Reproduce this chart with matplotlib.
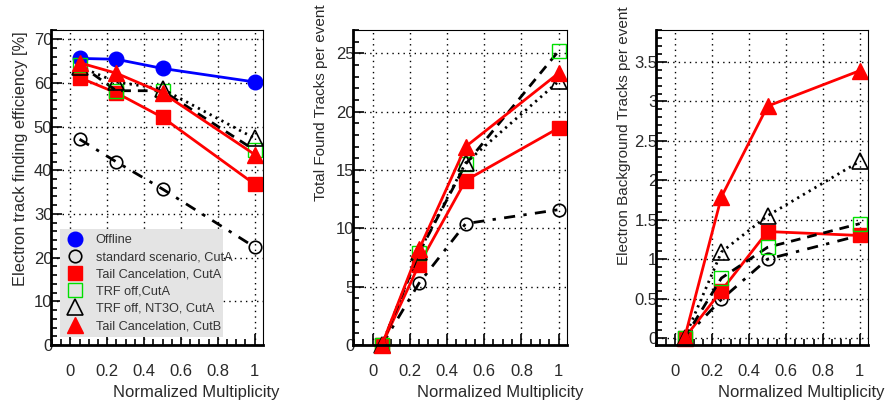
import matplotlib
matplotlib.use("Agg")
import matplotlib.pyplot as plt
from matplotlib.ticker import MultipleLocator
from matplotlib.lines import Line2D

plt.rcParams["font.family"] = ["Liberation Sans", "DejaVu Sans"]

mult = [0.05, 0.25, 0.5, 1.0]

labels = ["Offline", "standard scenario, CutA", "Tail Cancelation, CutA",
          "TRF off,CutA", "TRF off, NT3O, CutA", "Tail Cancelation, CutB"]

# efficiency [%]
eff_offline = [65.6, 65.4, 63.3, 60.2]
eff_standard = [47.1, 41.9, 35.7, 22.4]
eff_tail_a = [61.2, 57.7, 52.1, 36.8]
eff_trf_off = [64.2, 58.2, 58.2, 44.6]
eff_nt3o = [63.7, 60.2, 58.6, 47.3]
eff_tail_b = [64.6, 62.2, 57.7, 43.6]

# total found tracks per event
found_standard = [0.0, 5.3, 10.4, 11.6]
found_tail_a = [0.0, 6.9, 14.1, 18.6]
found_trf_off = [0.0, 7.9, 15.5, 25.2]
found_nt3o = [0.0, 8.0, 15.6, 22.6]
found_tail_b = [0.0, 8.2, 17.0, 23.3]

# electron background tracks per event
bkg_standard = [0.0, 0.49, 1.0, 1.3]
bkg_tail_a = [0.0, 0.6, 1.35, 1.3]
bkg_trf_off = [0.0, 0.76, 1.15, 1.45]
bkg_nt3o = [0.0, 1.09, 1.55, 2.24]
bkg_tail_b = [0.0, 1.79, 2.94, 3.39]

RED = "#ff0000"
BLUE = "#0000ff"
GREEN = "#00e000"
TXT = "#2a2a2a"

styles = {
    "offline": dict(color=BLUE, ls="-", lw=2, marker="o", ms=10.5,
                    mfc=BLUE, mec=BLUE),
    "standard": dict(color="k", ls=(0, (4, 3, 1.2, 3)), lw=2, marker="o", ms=9,
                     mfc="none", mec="k", mew=1.2),
    "tail_a": dict(color=RED, ls="-", lw=2, marker="s", ms=10,
                   mfc=RED, mec=RED),
    "trf_off": dict(color="k", ls=(0, (3.5, 2.5)), lw=2, marker="s", ms=10,
                    mfc="none", mec=GREEN, mew=1.0),
    "nt3o": dict(color="k", ls=(0, (0.8, 1.6)), lw=2, marker="^", ms=11,
                 mfc="none", mec="k", mew=1.2),
    "tail_b": dict(color=RED, ls="-", lw=2, marker="^", ms=11,
                   mfc=RED, mec=RED),
}

fig = plt.figure(figsize=(8.87, 4.05), dpi=100)
W, H = 887.0, 405.0
boxes = [(51, 212), (353, 214), (656, 212)]
axes = [fig.add_axes([l / W, (H - 345) / H, w / W, 315 / H]) for l, w in boxes]


def style_axis(ax, ylim, ymajor, yminor):
    ax.set_xlim(-0.105, 1.045)
    ax.set_ylim(*ylim)
    ax.xaxis.set_minor_locator(MultipleLocator(0.05))
    ax.yaxis.set_major_locator(MultipleLocator(ymajor))
    ax.yaxis.set_minor_locator(MultipleLocator(yminor))
    ax.set_xticks([0, 0.2, 0.4, 0.6, 0.8, 1.0])
    ax.set_xticklabels(["0", "0.2", "0.4", "0.6", "0.8", "1"])
    ax.yaxis.set_major_formatter(lambda v, pos: f"{v:g}")
    ax.grid(True, which="major", color="k", ls=(0, (1, 3)), lw=1.0)
    ax.tick_params(axis="both", which="both", direction="in", colors="k",
                   labelcolor=TXT, labelsize=12, width=1.2)
    ax.tick_params(axis="both", which="major", length=8)
    ax.tick_params(axis="both", which="minor", length=4)
    ax.tick_params(axis="x", pad=14)
    ax.tick_params(axis="y", pad=-1)
    ax.spines["left"].set_linewidth(2)
    ax.spines["bottom"].set_linewidth(2)
    ax.spines["top"].set_linewidth(0.8)
    ax.spines["right"].set_linewidth(0.8)
    ax.set_xlabel("Normalized Multiplicity", fontsize=12, color=TXT,
                  ha="right", va="center")
    ax.xaxis.set_label_coords(1.08, -0.152)


# panel 1: efficiency
ax = axes[0]
ax.plot(mult, eff_offline, **styles["offline"])
ax.plot(mult, eff_standard, **styles["standard"])
ax.plot(mult, eff_tail_a, **styles["tail_a"])
ax.plot(mult, eff_trf_off, **styles["trf_off"])
ax.plot(mult, eff_nt3o, **styles["nt3o"])
ax.plot(mult, eff_tail_b, **styles["tail_b"])
style_axis(ax, (0, 72.1), 10, 2)
ax.text(-0.146, 0.995, "Electron track finding efficiency [%]", transform=ax.transAxes,
        rotation=90, ha="center", va="top", fontsize=11.8, color=TXT)

handles = []
for key in ["offline", "standard", "tail_a", "trf_off", "nt3o", "tail_b"]:
    s = dict(styles[key])
    s["ls"] = "none"
    handles.append(Line2D([], [], **s))
leg = ax.legend(handles, labels, loc="lower left",
                bbox_to_anchor=(0.042, 0.025, 0.77, 0.334), mode="expand",
                fontsize=9.2, frameon=True, fancybox=False, borderpad=0.4,
                labelspacing=0.4, handletextpad=0.8, borderaxespad=0,
                handlelength=1.6)
leg.get_frame().set_facecolor("#e4e4e4")
leg.get_frame().set_edgecolor("none")
leg.get_frame().set_alpha(1)
for t in leg.get_texts():
    t.set_color("#333333")

# panel 2: total found tracks
ax = axes[1]
ax.plot(mult, found_standard, **styles["standard"])
ax.plot(mult, found_tail_a, **styles["tail_a"])
ax.plot(mult, found_trf_off, **styles["trf_off"])
ax.plot(mult, found_nt3o, **styles["nt3o"])
ax.plot(mult, found_tail_b, **styles["tail_b"])
style_axis(ax, (0, 27.0), 5, 1)
ax.xaxis.set_label_coords(1.075, -0.152)
ax.text(-0.15, 1.08, "Total Found Tracks per event", transform=ax.transAxes,
        rotation=90, ha="center", va="top", fontsize=11, color=TXT)

# panel 3: electron background tracks
ax = axes[2]
ax.plot(mult, bkg_standard, **styles["standard"])
ax.plot(mult, bkg_tail_a, **styles["tail_a"])
ax.plot(mult, bkg_trf_off, **styles["trf_off"])
ax.plot(mult, bkg_nt3o, **styles["nt3o"])
ax.plot(mult, bkg_tail_b, **styles["tail_b"])
style_axis(ax, (-0.089, 3.906), 0.5, 0.1)
ax.text(-0.15, 1.075, "Electron Background Tracks per event", transform=ax.transAxes,
        rotation=90, ha="center", va="top", fontsize=11, color=TXT)

for ax in axes:
    for line in ax.get_lines():
        line.set_clip_on(False)

fig.savefig("out.png", dpi=100)
